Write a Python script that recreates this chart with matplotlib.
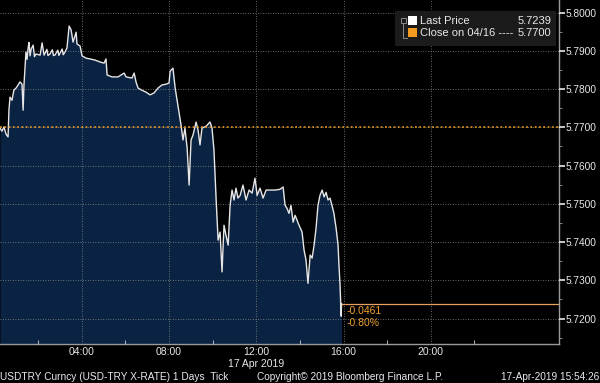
import matplotlib.pyplot as plt
from matplotlib.patches import Rectangle
from matplotlib.lines import Line2D

# godziny (czas lokalny) i kurs USDTRY
godziny = [0.25, 0.34, 0.43, 0.53, 0.62, 0.66, 0.71, 0.80, 0.89, 0.99,
           1.08, 1.17, 1.26, 1.31, 1.35, 1.44, 1.49, 1.54, 1.58, 1.63, 1.68, 1.77, 1.83, 1.90,
           2.09, 2.18, 2.27, 2.40, 2.45, 2.54, 2.65, 2.70, 2.77, 2.90, 2.95, 3.00, 3.10, 3.15,
           3.23, 3.32, 3.42, 3.51,
           3.60, 3.74, 3.78, 3.92, 4.01, 4.20, 4.38, 4.61, 4.84, 5.02,
           5.11, 5.16, 5.39, 5.66, 5.94, 6.03, 6.30, 6.40, 6.49, 6.58,
           6.76, 6.95, 7.13, 7.31, 7.50, 7.68, 7.86, 8.00, 8.05, 8.18,
           8.28, 8.37, 8.46, 8.55, 8.64, 8.73, 8.83, 8.92, 9.01, 9.10,
           9.24, 9.33, 9.42, 9.51, 9.70, 9.88, 9.97, 10.06, 10.16, 10.25,
           10.34, 10.43, 10.52, 10.61, 10.71, 10.80, 10.89, 10.98, 11.07, 11.16,
           11.26, 11.39, 11.53, 11.67, 11.81, 11.94, 12.04, 12.17, 12.31, 12.45,
           12.63, 12.86, 13.09, 13.23, 13.32, 13.41, 13.50, 13.59, 13.69, 13.78,
           13.87, 13.96, 14.10, 14.19, 14.28, 14.37, 14.47, 14.56, 14.65, 14.74,
           14.83, 14.92, 15.02, 15.11, 15.20, 15.29, 15.38, 15.47, 15.56, 15.66,
           15.75, 15.79, 15.84, 15.89, 15.91]

kurs = [5.7698, 5.7690, 5.7701, 5.7682, 5.7675, 5.7745, 5.7779, 5.7771, 5.7798, 5.7803,
        5.7811, 5.7819, 5.7813, 5.7745, 5.7811, 5.7897, 5.7878, 5.7908, 5.7922, 5.7887,
        5.7905, 5.7915, 5.7885, 5.7892,
        5.7889, 5.7921, 5.7889, 5.7904, 5.7888, 5.7892, 5.7903, 5.7888, 5.7889, 5.7902,
        5.7888, 5.7894, 5.7905, 5.7890, 5.7897, 5.7908, 5.7965, 5.7955,
        5.7923, 5.7949, 5.7918, 5.7913, 5.7887, 5.7881, 5.7879, 5.7876, 5.7871, 5.7868,
        5.7879, 5.7837, 5.7832, 5.7832, 5.7842, 5.7832, 5.7829, 5.7842, 5.7818, 5.7803,
        5.7797, 5.7792, 5.7785, 5.7790, 5.7803, 5.7811, 5.7813, 5.7816, 5.7847, 5.7855,
        5.7803, 5.7771, 5.7740, 5.7706, 5.7667, 5.7698, 5.7646, 5.7549, 5.7667, 5.7680,
        5.7714, 5.7693, 5.7654, 5.7698, 5.7703, 5.7714, 5.7698, 5.7641, 5.7510, 5.7405,
        5.7426, 5.7322, 5.7444, 5.7418, 5.7392, 5.7496, 5.7536, 5.7510, 5.7541, 5.7515,
        5.7522, 5.7549, 5.7510, 5.7536, 5.7528, 5.7567, 5.7522, 5.7541, 5.7515, 5.7536,
        5.7536, 5.7536, 5.7538, 5.7544, 5.7496, 5.7488, 5.7475, 5.7496, 5.7452, 5.7470,
        5.7457, 5.7444, 5.7426, 5.7379, 5.7353, 5.7292, 5.7366, 5.7358, 5.7392, 5.7436,
        5.7496, 5.7522, 5.7536, 5.7518, 5.7530, 5.7510, 5.7515, 5.7496, 5.7475, 5.7436,
        5.7392, 5.7340, 5.7288, 5.7206, 5.7239]

zamkniecie = 5.7700
ostatnia = 5.7239
zmiana = "-0.0461"
zmiana_proc = "-0.80%"

etykietyX = ["04:00", "08:00", "12:00", "16:00", "20:00"]
pozycjeX = [4, 8, 12, 16, 20]
pozycjeY = [5.72, 5.73, 5.74, 5.75, 5.76, 5.77, 5.78, 5.79, 5.80]

plt.rcParams['font.family'] = ['Liberation Sans', 'DejaVu Sans']

fig = plt.figure(figsize=(6.0, 3.83), dpi=100, facecolor="black")
ax = fig.add_axes([0.0, 0.1018, 0.9317, 0.8982], facecolor="black")

ax.set_xlim(0.25, 25.88)
ax.set_ylim(5.71333, 5.80332)

ax.fill_between(godziny, kurs, 5.71333, color="#0b2342", linewidth=0, zorder=1)
ax.plot(godziny, kurs, color="#e6e6e6", linewidth=1.0, zorder=3)

# poprzednie zamkniecie i ostatnia cena
ax.axhline(zamkniecie, color="#f39c1f", linestyle=(0, (1.2, 1.6)), linewidth=1.1, zorder=4)
ax.plot([godziny[-1], 25.88], [ostatnia, ostatnia], color="#e6a060", linewidth=0.9, zorder=4)
ax.text(godziny[-1] + 0.25, ostatnia - 0.0005, zmiana, color="#f0a030", fontsize=7.5,
        va="top", ha="left", zorder=5)
ax.text(godziny[-1] + 0.25, ostatnia - 0.0037, zmiana_proc, color="#f0a030", fontsize=7.5,
        va="top", ha="left", zorder=5)

ax.set_xticks(pozycjeX)
ax.set_xticklabels(etykietyX)
ax.set_xticks([2, 6, 10, 14, 18, 22], minor=True)
ax.set_yticks(pozycjeY)
ax.set_yticklabels([f"{v:.4f}" for v in pozycjeY])
ax.set_yticks([5.715, 5.725, 5.735, 5.745, 5.755, 5.765, 5.775, 5.785, 5.795], minor=True)

ax.yaxis.tick_right()
ax.tick_params(axis="y", which="major", colors="#e8e8e8", labelsize=7.3, length=4,
               width=1.2, direction="out", pad=1)
ax.tick_params(axis="y", which="minor", colors="#9a9a9a", length=2, direction="out")
ax.tick_params(axis="x", which="major", colors="#e8e8e8", labelsize=7.5, length=0, pad=2.5)
ax.tick_params(axis="x", which="minor", colors="#d0d0d0", length=3, direction="in")

ax.grid(True, which="major", color="#8a8a8a", linestyle=(0, (1, 2)), linewidth=0.6, zorder=2)
ax.set_axisbelow(False)

for strona in ["top", "left"]:
    ax.spines[strona].set_visible(False)
ax.spines["right"].set_color("#9a9a9a")
ax.spines["bottom"].set_color("#9a9a9a")
ax.spines["right"].set_linewidth(1.0)
ax.spines["bottom"].set_linewidth(1.0)

# legenda w stylu terminala
W, H = 600.0, 383.0
fig.patches.append(Rectangle((395 / W, 1 - 46 / H), 161 / W, 35 / H, transform=fig.transFigure,
                             facecolor="#1b1b1b", edgecolor="none", zorder=10))
fig.add_artist(Line2D([403 / W, 403 / W], [1 - 23 / H, 1 - 38 / H], color="#888888",
                      linewidth=0.7, transform=fig.transFigure, zorder=11))
fig.add_artist(Line2D([403 / W, 407 / W], [1 - 38 / H, 1 - 38 / H], color="#888888",
                      linewidth=0.7, transform=fig.transFigure, zorder=11))
fig.patches.append(Rectangle((400.5 / W, 1 - 23 / H), 5 / W, 5 / H, transform=fig.transFigure,
                             facecolor="none", edgecolor="#888888", linewidth=0.7, zorder=11))
fig.patches.append(Rectangle((408 / W, 1 - 25 / H), 9 / W, 9 / H, transform=fig.transFigure,
                             facecolor="white", edgecolor="none", zorder=11))
fig.patches.append(Rectangle((408 / W, 1 - 37 / H), 9 / W, 9 / H, transform=fig.transFigure,
                             facecolor="#f39c1f", edgecolor="none", zorder=11))
fig.text(420 / W, 1 - 20.5 / H, "Last Price", color="#e8e8e8", fontsize=8, va="center",
         ha="left", zorder=12)
fig.text(551 / W, 1 - 20.5 / H, f"{ostatnia:.4f}", color="#e8e8e8", fontsize=8, va="center",
         ha="right", zorder=12)
fig.text(420 / W, 1 - 33 / H, "Close on 04/16 ----", color="#e8e8e8", fontsize=8,
         va="center", ha="left", zorder=12)
fig.text(551 / W, 1 - 33 / H, f"{zamkniecie:.4f}", color="#e8e8e8", fontsize=8, va="center",
         ha="right", zorder=12)

# podpisy na dole
fig.text(256 / W, 1 - 364 / H, "17 Apr 2019", color="#e8e8e8", fontsize=7.5, ha="center",
         va="center")
fig.text(0.5 / W, 1 - 377 / H, "USDTRY Curncy (USD-TRY X-RATE) 1 Days  Tick", color="#e8e8e8",
         fontsize=7.3, ha="left", va="center")
fig.text(350 / W, 1 - 377 / H, "Copyright\u00a9 2019 Bloomberg Finance L.P.", color="#e8e8e8",
         fontsize=7.3, ha="center", va="center")
fig.text(599 / W, 1 - 377 / H, "17-Apr-2019 15:54:26", color="#e8e8e8", fontsize=7.3,
         ha="right", va="center")

fig.savefig("out.png", dpi=100, facecolor="black")
